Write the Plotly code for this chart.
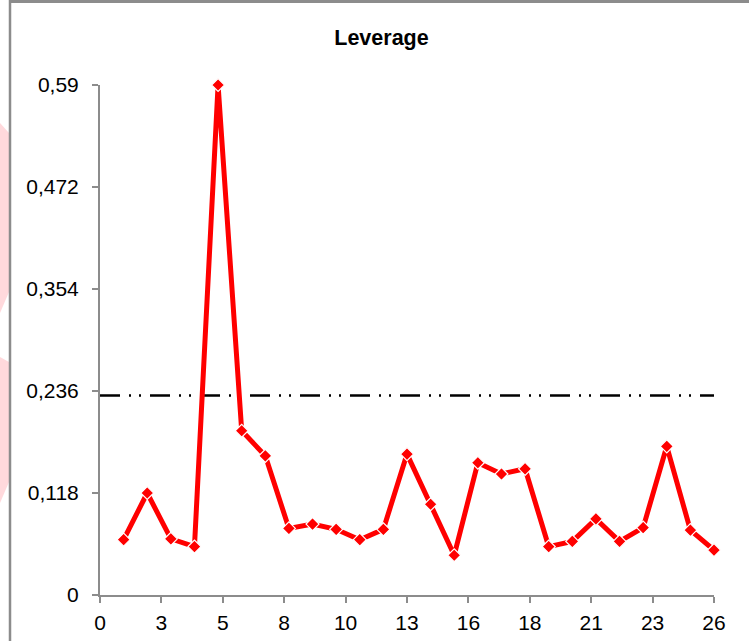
import numpy as np
import plotly.graph_objects as go

# ---- data ----
observations = list(range(1, 27))
leverage = [0.064, 0.118, 0.065, 0.056, 0.590, 0.190, 0.161, 0.077, 0.082, 0.076,
            0.064, 0.076, 0.163, 0.105, 0.046, 0.153, 0.140, 0.146, 0.056, 0.062,
            0.088, 0.062, 0.078, 0.172, 0.075, 0.052]
threshold = 0.2308
threshold_x = [0, 26]
x_tick_labels = ["0", "3", "5", "8", "10", "13", "16", "18", "21", "23", "26"]
y_tick_values = [0, 0.118, 0.236, 0.354, 0.472, 0.59]
y_tick_labels = ["0", "0,118", "0,236", "0,354", "0,472", "0,59"]

W, H = 754, 641
L, R, T, B = 100, 40, 85, 46
pw, ph = W - L - R, H - T - B

def px_x(p):
    return (p - L) / pw

def px_y(p):
    return (H - B - p) / ph

FONT = "Liberation Sans Narrow, Arial Narrow, Liberation Sans, Arial, sans-serif"
GREY = "#8c8c8c"

fig = go.Figure()
fig.add_trace(go.Scatter(
    x=threshold_x, y=[threshold] * len(threshold_x), mode="lines",
    line=dict(color="black", width=2.5, dash="20px,9px,2px,8px,2px,9px"),
    hoverinfo="skip", showlegend=False))
fig.add_trace(go.Scatter(
    x=observations, y=leverage, mode="lines+markers",
    line=dict(color="#ff0000", width=5),
    marker=dict(symbol="diamond", size=10, color="#ff0000",
                line=dict(color="white", width=1.2)),
    cliponaxis=False, showlegend=False))

shapes = [
    # faint pink background fragments at left edge
    dict(type="path", xref="paper", yref="paper", layer="below",
         path=f"M {px_x(0)},{px_y(123)} L {px_x(9)},{px_y(133)} L {px_x(9)},{px_y(292)} L {px_x(0)},{px_y(313)} Z",
         fillcolor="#ffd9dc", line=dict(width=0)),
    dict(type="path", xref="paper", yref="paper", layer="below",
         path=f"M {px_x(0)},{px_y(357)} L {px_x(9)},{px_y(362)} L {px_x(9)},{px_y(482)} L {px_x(0)},{px_y(503)} Z",
         fillcolor="#ffd9dc", line=dict(width=0)),
    # outer frame (left and top)
    dict(type="line", xref="paper", yref="paper",
         x0=px_x(10), x1=px_x(10), y0=px_y(0), y1=px_y(H),
         line=dict(color=GREY, width=2.5)),
    dict(type="line", xref="paper", yref="paper",
         x0=px_x(10), x1=px_x(749), y0=px_y(1.5), y1=px_y(1.5),
         line=dict(color=GREY, width=3)),
]

fig.update_layout(
    width=W, height=H,
    margin=dict(l=L, r=R, t=T, b=B, pad=0, autoexpand=False),
    paper_bgcolor="white", plot_bgcolor="white",
    font=dict(family=FONT, size=21, color="black"),
    title=dict(text="<b>Leverage</b>", x=381.5 / W, xanchor="center",
               y=1 - 37 / H, yref="container", yanchor="middle",
               font=dict(family=FONT, size=21.5, color="black")),
    shapes=shapes,
    xaxis=dict(range=[0, 26], tickmode="array", automargin=False,
               tickvals=list(np.linspace(0, 26, len(x_tick_labels))),
               ticktext=x_tick_labels, showgrid=False, zeroline=False,
               showline=True, linecolor=GREY, linewidth=2,
               ticks="outside", ticklen=6, tickwidth=2, tickcolor=GREY,
               ticklabelstandoff=2, tickfont=dict(size=21)),
    yaxis=dict(range=[0, 0.59], tickmode="array", tickvals=y_tick_values,
               automargin=False,
               ticktext=y_tick_labels, showgrid=False, zeroline=False,
               showline=True, linecolor=GREY, linewidth=2,
               ticks="outside", ticklen=6, tickwidth=2, tickcolor=GREY,
               ticklabelstandoff=9, tickfont=dict(size=21)),
)

fig.write_html("out.html", config={"displayModeBar": False},
               post_script="document.body.style.margin='0';document.body.style.overflow='hidden';")
